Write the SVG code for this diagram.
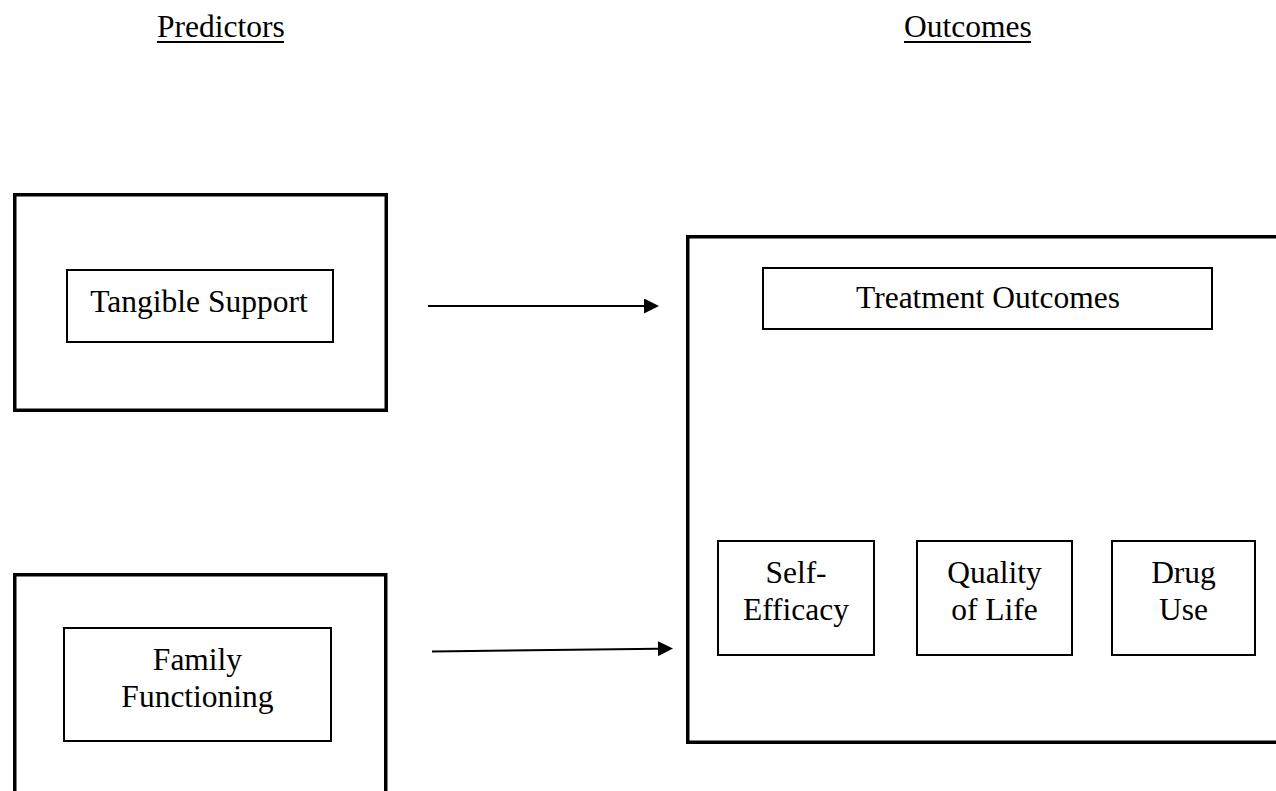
<svg xmlns="http://www.w3.org/2000/svg" width="1276" height="791" viewBox="0 0 1276 791">
<style>
.outer{fill:none;stroke:#000;stroke-width:3.5}
.inner{fill:none;stroke:#000;stroke-width:2}
.t{font-family:"Liberation Serif","Times New Roman",serif;font-size:31.5px;fill:#000;text-anchor:middle}
.h{font-family:"Liberation Serif","Times New Roman",serif;font-size:31.5px;fill:#000;text-anchor:start}
.u{stroke:#000;stroke-width:2}
.conn{stroke:#000;stroke-width:2;fill:none}
</style>
<defs>
<marker id="arrow" markerUnits="userSpaceOnUse" markerWidth="15" markerHeight="15" viewBox="0 0 15 15" refX="0" refY="7.5" orient="auto">
<path d="M0,0 L15,7.5 L0,15 z" fill="#000"/>
</marker>
</defs>
<rect width="1276" height="791" fill="#fff"/>
<g id="heading-predictors">
<text class="h" x="157" y="37">Predictors</text>
<line class="u" x1="157" y1="42" x2="284" y2="42"/>
</g>
<g id="heading-outcomes">
<text class="h" x="904" y="37">Outcomes</text>
<line class="u" x1="904" y1="42" x2="1031" y2="42"/>
</g>
<g id="tangible-support">
<rect class="outer" x="14.75" y="194.75" width="371.5" height="215.5"/>
<rect class="inner" x="67" y="270" width="266" height="72"/>
<text class="t" x="199" y="312">Tangible Support</text>
</g>
<g id="family-functioning">
<rect class="outer" x="14.75" y="574.75" width="371" height="240"/>
<rect class="inner" x="64" y="628" width="267" height="113"/>
<text class="t" x="197.5" y="670">Family</text>
<text class="t" x="197.5" y="707">Functioning</text>
</g>
<g id="treatment-outcomes">
<rect class="outer" x="687.75" y="236.75" width="600" height="505.5"/>
<rect class="inner" x="763" y="268" width="449" height="61"/>
<text class="t" x="988" y="308">Treatment Outcomes</text>
</g>
<g id="self-efficacy">
<rect class="inner" x="718" y="541" width="156" height="114"/>
<text class="t" x="796" y="583">Self-</text>
<text class="t" x="796" y="620">Efficacy</text>
</g>
<g id="quality-of-life">
<rect class="inner" x="917" y="541" width="155" height="114"/>
<text class="t" x="994.5" y="583">Quality</text>
<text class="t" x="994.5" y="620">of Life</text>
</g>
<g id="drug-use">
<rect class="inner" x="1112" y="541" width="143" height="114"/>
<text class="t" x="1183.5" y="583">Drug</text>
<text class="t" x="1183.5" y="620">Use</text>
</g>
<g id="connectors">
<line class="conn" x1="428" y1="306" x2="644" y2="306" marker-end="url(#arrow)"/>
<line class="conn" x1="432" y1="651.5" x2="658" y2="648.7" marker-end="url(#arrow)"/>
</g>
</svg>
